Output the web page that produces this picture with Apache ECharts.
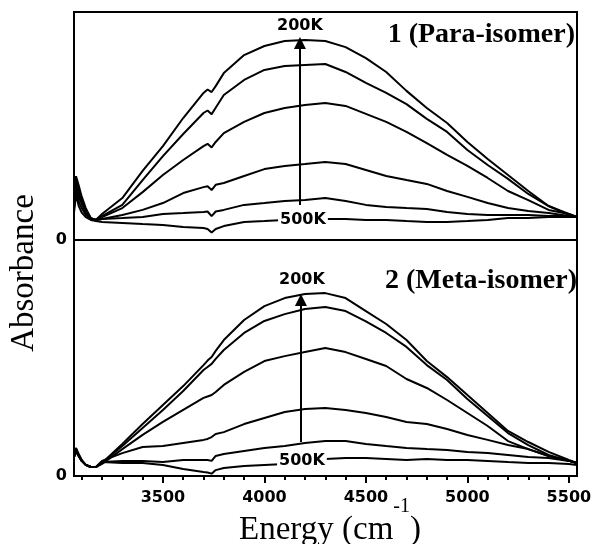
<!DOCTYPE html>
<html>
<head>
<meta charset="utf-8">
<script src="https://cdn.jsdelivr.net/npm/echarts@6/dist/echarts.min.js"></script>
<style>
  html, body { margin: 0; padding: 0; background: #fff; }
  #chart { width: 592px; height: 544px; }
</style>
</head>
<body>
<div id="chart"></div>
<script>
// energy grid (cm-1), shared by every curve
const energy = [3062, 3072, 3085, 3100, 3120, 3145, 3170, 3200, 3300, 3400, 3500, 3600, 3700, 3720, 3740, 3760, 3800, 3900, 4000, 4100, 4200, 4300, 4400, 4500, 4600, 4700, 4800, 4900, 5000, 5100, 5200, 5300, 5400, 5500, 5540];

// 1 (Para-isomer), 200K -> 500K
const para1 = [22, 28, 24, 19, 14, 9.6, 8.8, 11.4, 18.4, 30.3, 41.2, 53.5, 64.5, 66.0, 64.9, 67.5, 73.2, 81.1, 85.1, 87.3, 87.7, 87.3, 84.6, 79.8, 73.7, 65.4, 57.9, 51.3, 43.0, 35.5, 28.5, 21.5, 14.9, 11.0, 10.1];
const para2 = [20, 26, 22, 18, 13, 9.6, 8.8, 10.5, 15.4, 26.3, 36.8, 46.5, 55.7, 56.8, 55.2, 58.0, 63.6, 70.2, 74.6, 76.3, 76.8, 77.2, 73.7, 68.9, 64.5, 59.6, 53.1, 47.4, 39.5, 32.9, 26.8, 20.2, 14.9, 11.4, 10.1];
const para3 = [18, 25, 20, 17, 12, 9.2, 8.8, 10.0, 14.0, 21.0, 28.5, 35.1, 41.2, 42.2, 40.6, 43.0, 46.9, 51.8, 55.7, 57.9, 59.2, 60.1, 58.8, 55.3, 51.8, 47.4, 42.5, 37.3, 32.5, 27.2, 21.5, 17.5, 13.2, 11.4, 10.1];
const para4 = [16, 23, 19, 16, 12, 9.2, 8.8, 9.2, 11.0, 13.2, 16.2, 20.6, 23.2, 23.6, 21.9, 24.2, 25.0, 28.1, 31.1, 32.5, 33.3, 34.2, 33.3, 30.7, 28.1, 26.3, 24.6, 21.5, 18.9, 16.2, 14.0, 12.7, 11.8, 10.5, 10.1];
const para5 = [14, 21, 17, 14, 11, 9.2, 8.8, 9.2, 9.6, 10.1, 11.4, 11.8, 12.3, 12.5, 10.5, 12.5, 13.2, 15.4, 16.2, 17.1, 17.5, 18.4, 17.1, 15.4, 14.5, 14.0, 13.6, 12.3, 11.4, 11.0, 11.0, 11.0, 10.5, 10.5, 10.1];
const para6 = [12, 20, 15, 12, 10, 8.8, 8.3, 7.9, 7.5, 7.0, 6.6, 5.7, 5.3, 4.8, 3.3, 4.8, 6.1, 7.9, 8.3, 8.8, 8.8, 9.2, 9.2, 8.8, 8.8, 8.3, 7.9, 7.9, 8.3, 8.8, 9.6, 9.6, 10.1, 10.1, 10.1];

// 2 (Meta-isomer), 200K -> 500K
const meta1 = [8.9, 11.9, 9.3, 6.8, 4.7, 3.8, 3.8, 5.5, 13.6, 22.0, 30.1, 38.1, 47.0, 48.9, 50.4, 53.0, 57.6, 66.1, 72.0, 75.4, 77.1, 77.5, 75.4, 69.9, 64.4, 57.6, 48.7, 41.9, 34.3, 26.7, 19.1, 14.4, 10.2, 6.8, 5.5];
const meta2 = [8.5, 11.5, 9.0, 6.6, 4.7, 3.8, 3.8, 5.5, 12.7, 20.3, 28.0, 36.0, 44.9, 46.2, 47.5, 49.6, 53.4, 60.6, 65.7, 68.6, 70.8, 71.6, 69.9, 65.5, 60.6, 54.7, 47.0, 40.7, 32.6, 25.4, 18.2, 13.1, 8.9, 6.4, 5.5];
const meta3 = [8.0, 11.0, 8.8, 6.4, 4.7, 3.8, 3.8, 5.1, 11.4, 17.4, 22.9, 28.0, 33.1, 33.7, 34.3, 35.6, 38.6, 44.1, 48.7, 50.8, 52.5, 54.2, 52.5, 49.6, 46.6, 41.1, 37.3, 32.2, 26.7, 21.2, 14.8, 11.4, 8.5, 6.4, 5.5];
const meta4 = [8.0, 10.5, 8.5, 6.4, 4.7, 3.8, 3.8, 6.4, 9.7, 12.3, 12.7, 14.0, 15.3, 15.7, 16.5, 17.8, 18.6, 22.0, 24.6, 27.1, 28.4, 28.8, 28.0, 26.7, 25.0, 22.9, 22.0, 19.9, 17.4, 15.3, 13.1, 11.4, 8.5, 6.4, 5.5];
const meta5 = [8.0, 10.5, 8.5, 6.4, 4.7, 3.8, 3.8, 5.9, 6.4, 6.4, 5.9, 6.8, 6.8, 6.8, 6.4, 8.5, 9.3, 10.6, 11.9, 12.7, 14.0, 14.8, 14.8, 13.6, 12.7, 11.9, 11.4, 11.0, 10.2, 9.7, 8.9, 8.1, 7.6, 6.4, 5.5];
const meta6 = [8.0, 10.5, 8.5, 6.4, 4.7, 3.8, 3.8, 5.9, 5.5, 5.5, 4.7, 3.0, 1.7, 1.5, 1.0, 2.5, 3.4, 4.2, 4.7, 5.1, 5.9, 7.2, 7.6, 7.6, 7.2, 6.8, 7.2, 6.8, 6.8, 6.4, 5.9, 5.5, 5.5, 5.1, 4.7];

// axis ticks
const majorTicks = [3500, 4000, 4500, 5000, 5500];
const minorTicks = [3100, 3200, 3300, 3400, 3600, 3700, 3800, 3900, 4100, 4200, 4300, 4400, 4600, 4700, 4800, 4900, 5100, 5200, 5300, 5400];
const yTicks = [0, 100];

const tempLabels = ["200K", "500K"];

// arrows (energy, from, to) and label positions per panel
const paraArrow = [4175, 15.4, 86.4];
const metaArrow = [4180, 14.4, 74.6];
const paraLabelPos = [[4175, 93.9], [4190, 8.8]];
const metaLabelPos = [[4185, 83.1], [4185, 6.4]];

const chart = echarts.init(document.getElementById("chart"));

const tickFont = { fontFamily: "DejaVu Sans", fontWeight: "bold", fontSize: 16, color: "#000" };

function curve(values, idx) {
  return {
    type: "line",
    xAxisIndex: idx,
    yAxisIndex: idx,
    showSymbol: false,
    silent: true,
    lineStyle: { color: "#000", width: 2 },
    data: energy.map((e, i) => [e, values[i]]),
  };
}

function annotation(idx, arrow, labelPos) {
  return {
    type: "line",
    xAxisIndex: idx,
    yAxisIndex: idx,
    data: [],
    z: 10,
    markLine: {
      silent: true,
      symbol: ["none", "triangle"],
      symbolSize: 12,
      label: { show: false },
      lineStyle: { color: "#000", width: 2, type: "solid" },
      data: [[{ coord: [arrow[0], arrow[1]] }, { coord: [arrow[0], arrow[2]] }]],
    },
    markPoint: {
      silent: true,
      symbol: "circle",
      symbolSize: 1,
      itemStyle: { color: "rgba(0,0,0,0)" },
      label: {
        show: true,
        position: "inside",
        formatter: (p) => p.name,
        fontFamily: "DejaVu Sans",
        fontWeight: "bold",
        fontSize: 16,
        color: "#000",
      },
      data: labelPos.map((c, i) => ({
        name: tempLabels[i],
        coord: c,
        label: i === 1 ? { backgroundColor: "#fff", padding: [1, 2] } : {},
      })),
    },
  };
}

const yAxisBase = {
  type: "value",
  min: yTicks[0],
  max: yTicks[1],
  interval: yTicks[1] - yTicks[0],
  axisLine: { show: true, lineStyle: { color: "#000", width: 2 } },
  axisTick: { show: false },
  splitLine: { show: false },
  axisLabel: { ...tickFont, margin: 7, formatter: (v) => (v === 0 ? "0" : "") },
};

const option = {
  animation: false,
  backgroundColor: "#fff",
  title: [
    {
      text: "1 (Para-isomer)",
      right: 17,
      top: 21,
      padding: 0,
      textStyle: { fontFamily: "Liberation Serif", fontWeight: "bold", fontSize: 28, lineHeight: 28, color: "#000" },
    },
    {
      text: "2 (Meta-isomer)",
      right: 15,
      top: 267,
      padding: 0,
      textStyle: { fontFamily: "Liberation Serif", fontWeight: "bold", fontSize: 28, lineHeight: 28, color: "#000" },
    },
  ],
  graphic: [
    {
      type: "text",
      x: 24,
      y: 273,
      rotation: Math.PI / 2,
      style: {
        text: "Absorbance",
        font: '33px "Liberation Serif"',
        textAlign: "center",
        textVerticalAlign: "middle",
        fill: "#000",
      },
    },
    {
      // x axis title with superscript
      type: "text",
      x: 330,
      y: 547,
      style: {
        text: "{e|Energy (cm}{s|-1}{e|)}",
        textAlign: "center",
        textVerticalAlign: "bottom",
        fill: "#000",
        rich: {
          e: { fontFamily: "Liberation Serif", fontSize: 33, lineHeight: 50, verticalAlign: "bottom", fill: "#000" },
          s: { fontFamily: "Liberation Serif", fontSize: 20, lineHeight: 20, verticalAlign: "top", fill: "#000" },
        },
      },
    },
  ],
  grid: [
    { left: 74, top: 12, width: 503, height: 228, show: true, borderColor: "#000", borderWidth: 2, outerBoundsMode: "none" },
    { left: 74, top: 240, width: 503, height: 236, show: true, borderColor: "#000", borderWidth: 2, outerBoundsMode: "none" },
  ],
  xAxis: [
    {
      gridIndex: 0,
      type: "value",
      min: energy[0],
      max: energy[energy.length - 1],
      axisLine: { show: false },
      axisTick: { show: false },
      axisLabel: { show: false },
      splitLine: { show: false },
    },
    {
      gridIndex: 1,
      type: "value",
      min: energy[0],
      max: energy[energy.length - 1],
      axisLine: { show: true, lineStyle: { color: "#000", width: 2 } },
      axisTick: { show: true, length: 7, customValues: majorTicks, lineStyle: { color: "#000", width: 2 } },
      splitLine: { show: false },
      axisLabel: { ...tickFont, margin: 14, customValues: majorTicks, formatter: (v) => String(v) },
    },
    {
      // minor ticks only
      gridIndex: 1,
      type: "value",
      position: "bottom",
      min: energy[0],
      max: energy[energy.length - 1],
      axisLine: { show: false },
      axisTick: { show: true, length: 4, customValues: minorTicks, lineStyle: { color: "#000", width: 2 } },
      axisLabel: { show: false },
      splitLine: { show: false },
    },
  ],
  yAxis: [
    { ...yAxisBase, gridIndex: 0 },
    { ...yAxisBase, gridIndex: 1 },
  ],
  series: [
    curve(para1, 0),
    curve(para2, 0),
    curve(para3, 0),
    curve(para4, 0),
    curve(para5, 0),
    curve(para6, 0),
    curve(meta1, 1),
    curve(meta2, 1),
    curve(meta3, 1),
    curve(meta4, 1),
    curve(meta5, 1),
    curve(meta6, 1),
    annotation(0, paraArrow, paraLabelPos),
    annotation(1, metaArrow, metaLabelPos),
  ],
};

chart.setOption(option);
</script>
</body>
</html>
